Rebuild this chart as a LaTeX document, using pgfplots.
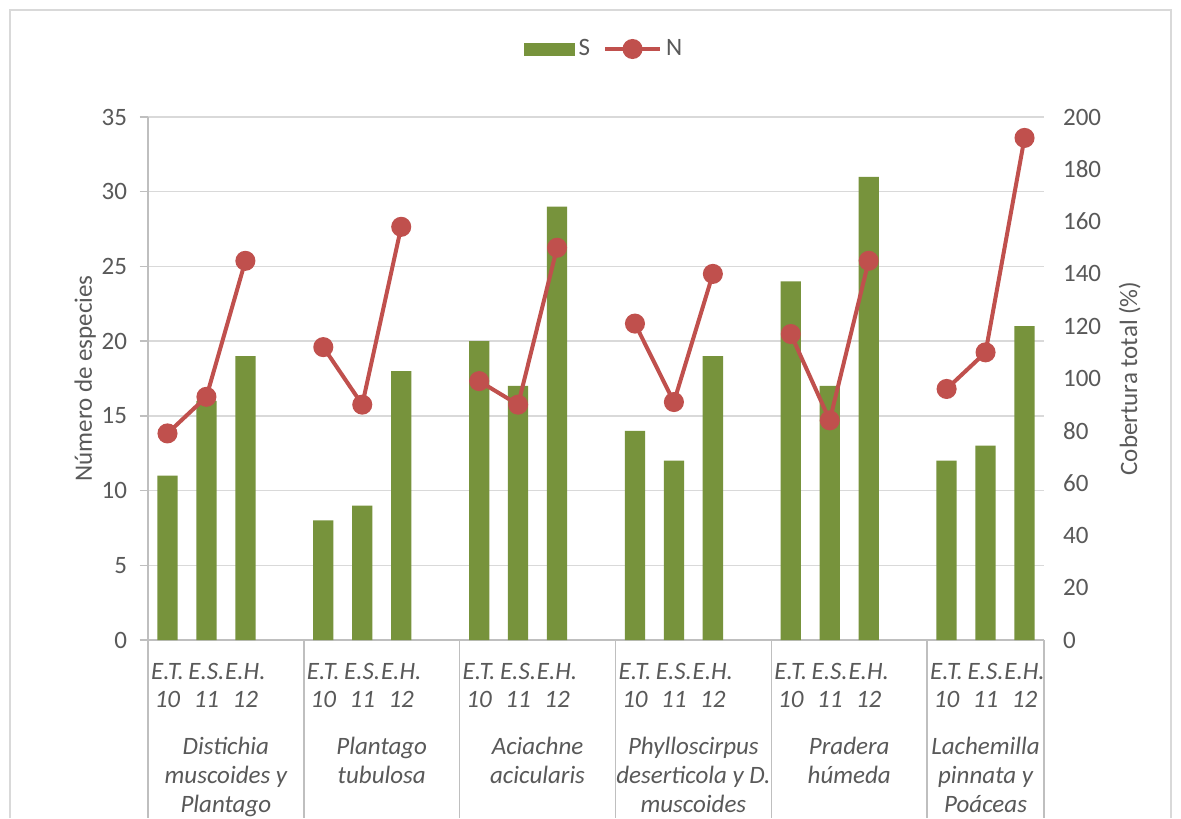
\documentclass[border=0pt]{standalone}
\usepackage{pgfplots}
\pgfplotsset{compat=1.18}
\usepackage{fontspec}
\setmainfont{Carlito}
\definecolor{barg}{HTML}{77933C}
\definecolor{liner}{HTML}{C0504D}
\definecolor{txt}{HTML}{595959}
\definecolor{gridc}{HTML}{D9D9D9}
\definecolor{axl}{HTML}{BFBFBF}
\pgfplotsset{nlegend/.style={legend image code/.code={\draw[mark repeat=2,mark phase=2,##1] plot coordinates {(0pt,0pt) (13.75pt,0pt) (27.5pt,0pt)};}}}
\begin{document}
\begin{tikzpicture}[font=\fontsize{12.5}{15}\selectfont]
\useasboundingbox (-74pt,-89pt) rectangle (516.5pt,320pt);
\fill[white] (-74pt,-89pt) rectangle (516.5pt,320pt);
\draw[gridc, line width=0.75pt] (-69pt,-89pt) -- (-69pt,315pt) -- (511.5pt,315pt) -- (511.5pt,-89pt);
\begin{axis}[
  at={(0,0)}, anchor=south west, scale only axis, width=448pt, height=261.5pt,
  xmin=-0.5, xmax=22.5, ymin=0, ymax=35, ytick={0,5,...,35},
  enlarge x limits=false, clip=false,
  axis x line*=bottom, axis y line*=left, axis line style={axl,-, line width=0.75pt},
  ymajorgrids, grid style={gridc, line width=0.75pt},
  ybar, bar width=0.52,
  xtick={0,1,2,4,5,6,8,9,10,12,13,14,16,17,18,20,21,22},
  xticklabels={{E.T.\\10},{E.S.\\11},{E.H.\\12},{E.T.\\10},{E.S.\\11},{E.H.\\12},{E.T.\\10},{E.S.\\11},{E.H.\\12},{E.T.\\10},{E.S.\\11},{E.H.\\12},{E.T.\\10},{E.S.\\11},{E.H.\\12},{E.T.\\10},{E.S.\\11},{E.H.\\12}},
  xtick style={draw=none},
  ytick style={axl, line width=0.75pt},
  major tick length=4pt, tick align=outside,
  xticklabel style={txt, align=center, inner xsep=0pt, font=\itshape\fontsize{12.5}{14}\selectfont, yshift=-4pt},
  yticklabel style={txt, xshift=-3pt},
  /pgf/number format/assume math mode=true,
  ylabel={Número de especies}, ylabel style={txt, yshift=-4pt},
]
\addplot[fill=barg, draw=none] coordinates {
(0,11) (1,16) (2,19) (4,8) (5,9) (6,18) (8,20) (9,17) (10,29)
(12,14) (13,12) (14,19) (16,24) (17,17) (18,31) (20,12) (21,13) (22,21)};
\pgfplotsinvokeforeach{-0.5,3.5,7.5,11.5,15.5,19.5,22.5}{
  \draw[axl, line width=0.75pt] (axis cs:#1,0) -- ++(0pt,-89pt);
}
\begin{scope}[every node/.style={anchor=north, align=center, text=txt, font=\itshape\fontsize{12.5}{14.5}\selectfont, yshift=-45pt}]
\node at (axis cs:1.5,0) {Distichia\\muscoides y\\Plantago};
\node at (axis cs:5.5,0) {Plantago\\tubulosa};
\node at (axis cs:9.5,0) {Aciachne\\acicularis};
\node at (axis cs:13.5,0) {Phylloscirpus\\deserticola y D.\\muscoides};
\node at (axis cs:17.5,0) {Pradera\\húmeda};
\node at (axis cs:21,0) {Lachemilla\\pinnata y\\Poáceas};
\end{scope}
\end{axis}
\begin{axis}[
  at={(0,0)}, anchor=south west, scale only axis, width=448pt, height=261.5pt,
  xmin=-0.5, xmax=22.5, ymin=0, ymax=200, ytick={0,20,...,200},
  enlarge x limits=false, clip=false,
  axis y line*=right, axis x line=none, axis line style={draw=none},
  major tick length=0pt,
  yticklabel style={txt, xshift=6pt},
  /pgf/number format/assume math mode=true,
  ylabel={Cobertura total (\%)}, ylabel style={txt, yshift=-2pt},
  legend columns=2,
  legend style={at={(0.51,1.13)}, anchor=center, draw=none, fill=none, text=txt,
    font=\fontsize{12.5}{13}\selectfont,
    /tikz/every even column/.append style={column sep=4.5pt}},
]
\addlegendimage{legend image code/.code={\fill[barg] (0pt,-3pt) rectangle (25pt,3pt);}}
\addlegendentry{S}
\addplot[liner, line width=2pt, mark=*, mark size=4pt, mark options={fill=liner, draw=liner},
  unbounded coords=jump, nlegend]
 coordinates {
(0,79) (1,93) (2,145) (3,nan) (4,112) (5,90) (6,158) (7,nan)
(8,99) (9,90) (10,150) (11,nan) (12,121) (13,91) (14,140) (15,nan)
(16,117) (17,84) (18,145) (19,nan) (20,96) (21,110) (22,192)};
\addlegendentry{N}
\end{axis}
\end{tikzpicture}
\end{document}
